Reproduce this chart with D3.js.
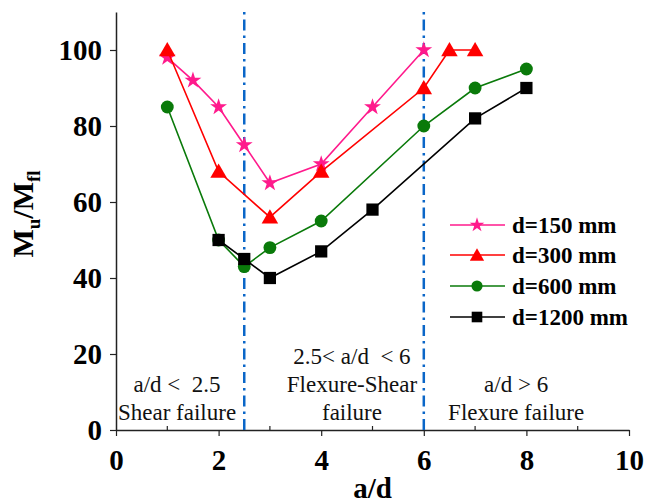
<!DOCTYPE html>
<html>
<head>
<meta charset="utf-8">
<script src="https://cdn.jsdelivr.net/npm/d3@7/dist/d3.min.js"></script>
<style>
  html, body { margin: 0; padding: 0; background: #fff; }
  svg { display: block; font-family: "Liberation Serif", "Times New Roman", serif; }
</style>
</head>
<body>
<svg id="chart" width="648" height="504"></svg>
<script>
// Series: normalised moment capacity Mu/Mfl versus shear span ratio a/d
const x150 = [1, 1.5, 2, 2.5, 3, 4, 5, 6];
const y150 = [98, 92, 85, 75, 65, 70, 85, 100];
const x300 = [1, 2, 3, 4, 6, 6.5, 7];
const y300 = [100, 68, 56, 68, 90, 100, 100];
const x600 = [1, 2, 2.5, 3, 4, 6, 7, 8];
const y600 = [85, 50, 43, 48, 55, 80, 90, 95];
const x1200 = [2, 2.5, 3, 4, 5, 7, 8];
const y1200 = [50, 45, 40, 47, 58, 82, 90];

const seriesNames = ["d=150 mm", "d=300 mm", "d=600 mm", "d=1200 mm"];
const xTicks = [0, 2, 4, 6, 8, 10];
const yTicks = [0, 20, 40, 60, 80, 100];
const boundaries = [2.5, 6];
const regionLabels = [
  { x: 1.19, lines: ["a/d <\u00a0\u00a02.5", "Shear failure"] },
  { x: 4.6, lines: ["2.5< a/d\u00a0\u00a0< 6", "Flexure-Shear", "failure"] },
  { x: 7.8, lines: ["a/d > 6", "Flexure failure"] }
];

const series = [
  { name: seriesNames[0], xs: x150, ys: y150, color: "#ff1a8c", symbol: d3.symbolStar, size: 88 },
  { name: seriesNames[1], xs: x300, ys: y300, color: "#ff0000", symbol: d3.symbolTriangle, size: 118 },
  { name: seriesNames[2], xs: x600, ys: y600, color: "#0a7a0a", symbol: d3.symbolCircle, size: 130 },
  { name: seriesNames[3], xs: x1200, ys: y1200, color: "#000000", symbol: d3.symbolSquare, size: 150 }
];

const svg = d3.select("#chart");
const margin = { left: 116, right: 19, top: 12, bottom: 74 };
const W = 648, H = 504;

const x = d3.scaleLinear().domain([0, 10]).range([margin.left, W - margin.right]);
const y = d3.scaleLinear().domain([0, 110]).range([H - margin.bottom, margin.top]);

// Axes
const xAxis = svg.append("g")
  .attr("transform", `translate(0,${y(0)})`)
  .call(d3.axisBottom(x).tickValues(xTicks).tickSize(6).tickSizeOuter(0).tickFormat(d3.format("d")));
// minor ticks pointing into the plot
svg.append("g").selectAll("line").data([1, 3, 5, 7, 9]).join("line")
  .attr("x1", d => x(d)).attr("x2", d => x(d))
  .attr("y1", y(0)).attr("y2", y(0) - 4)
  .attr("stroke", "#222").attr("stroke-width", 1.2);

const yAxis = svg.append("g")
  .attr("transform", `translate(${x(0)},0)`)
  .call(d3.axisLeft(y).tickValues(yTicks).tickSize(6).tickSizeOuter(0).tickFormat(d3.format("d")));

[xAxis, yAxis].forEach(g => {
  g.select(".domain").attr("stroke", "#222").attr("stroke-width", 1.5);
  g.selectAll(".tick line").attr("stroke", "#222").attr("stroke-width", 1.2);
  g.selectAll(".tick text")
    .attr("fill", "#000")
    .style("font-family", "'Liberation Serif', serif")
    .style("font-weight", "bold")
    .style("font-size", "29px");
});
xAxis.selectAll(".tick text").attr("dy", null).attr("y", 40);
yAxis.selectAll(".tick text").attr("x", -14).attr("dy", "0.34em");

// Axis titles
svg.append("text")
  .attr("x", x(5)).attr("y", 498)
  .attr("text-anchor", "middle")
  .style("font-weight", "bold").style("font-size", "29px")
  .text("a/d");

const yTitle = svg.append("text")
  .attr("transform", `translate(33,214) rotate(-90)`)
  .attr("text-anchor", "middle")
  .style("font-weight", "bold").style("font-size", "30px");
yTitle.append("tspan").text("M");
yTitle.append("tspan").attr("dy", 7).style("font-size", "19px").text("u");
yTitle.append("tspan").attr("dy", -7).text("/M");
yTitle.append("tspan").attr("dy", 7).style("font-size", "19px").text("fl");

// Failure-mode boundaries
svg.append("g").selectAll("line").data(boundaries).join("line")
  .attr("x1", d => x(d)).attr("x2", d => x(d))
  .attr("y1", y(0)).attr("y2", margin.top)
  .attr("stroke", "#0a66c8").attr("stroke-width", 2.5)
  .attr("stroke-dasharray", "11,5,2.5,5");

// Region labels
const regionG = svg.append("g").style("font-size", "23px").attr("fill", "#111");
regionLabels.forEach(r => {
  const nLines = r.lines.length;
  r.lines.forEach((t, i) => {
    regionG.append("text")
      .attr("x", x(r.x))
      .attr("y", 420 - (nLines - 1 - i) * 28)
      .attr("text-anchor", "middle")
      .text(t);
  });
});

// Lines and markers
const line = d3.line().x(d => x(d[0])).y(d => y(d[1]));
series.forEach(s => {
  const pts = s.xs.map((v, i) => [v, s.ys[i]]);
  const g = svg.append("g");
  g.append("path").datum(pts)
    .attr("d", line)
    .attr("fill", "none")
    .attr("stroke", s.color)
    .attr("stroke-width", 1.6);
  g.selectAll("path.m").data(pts).join("path")
    .attr("class", "m")
    .attr("d", d3.symbol().type(s.symbol).size(s.size))
    .attr("transform", d => `translate(${x(d[0])},${y(d[1]) + (s.symbol === d3.symbolTriangle ? 1.5 : 0)})`)
    .attr("fill", s.color);
});

// Legend
const legend = svg.append("g");
series.forEach((s, i) => {
  const ly = [225, 255, 286, 317][i];
  legend.append("line")
    .attr("x1", 450).attr("x2", 505).attr("y1", ly).attr("y2", ly)
    .attr("stroke", s.color).attr("stroke-width", 1.6);
  legend.append("path")
    .attr("d", d3.symbol().type(s.symbol).size(s.size * 0.75))
    .attr("transform", `translate(477,${ly + (s.symbol === d3.symbolTriangle ? 1.5 : 0)})`)
    .attr("fill", s.color);
  legend.append("text")
    .attr("x", 512).attr("y", ly + 8)
    .style("font-weight", "bold").style("font-size", "23px")
    .text(s.name);
});
</script>
</body>
</html>
